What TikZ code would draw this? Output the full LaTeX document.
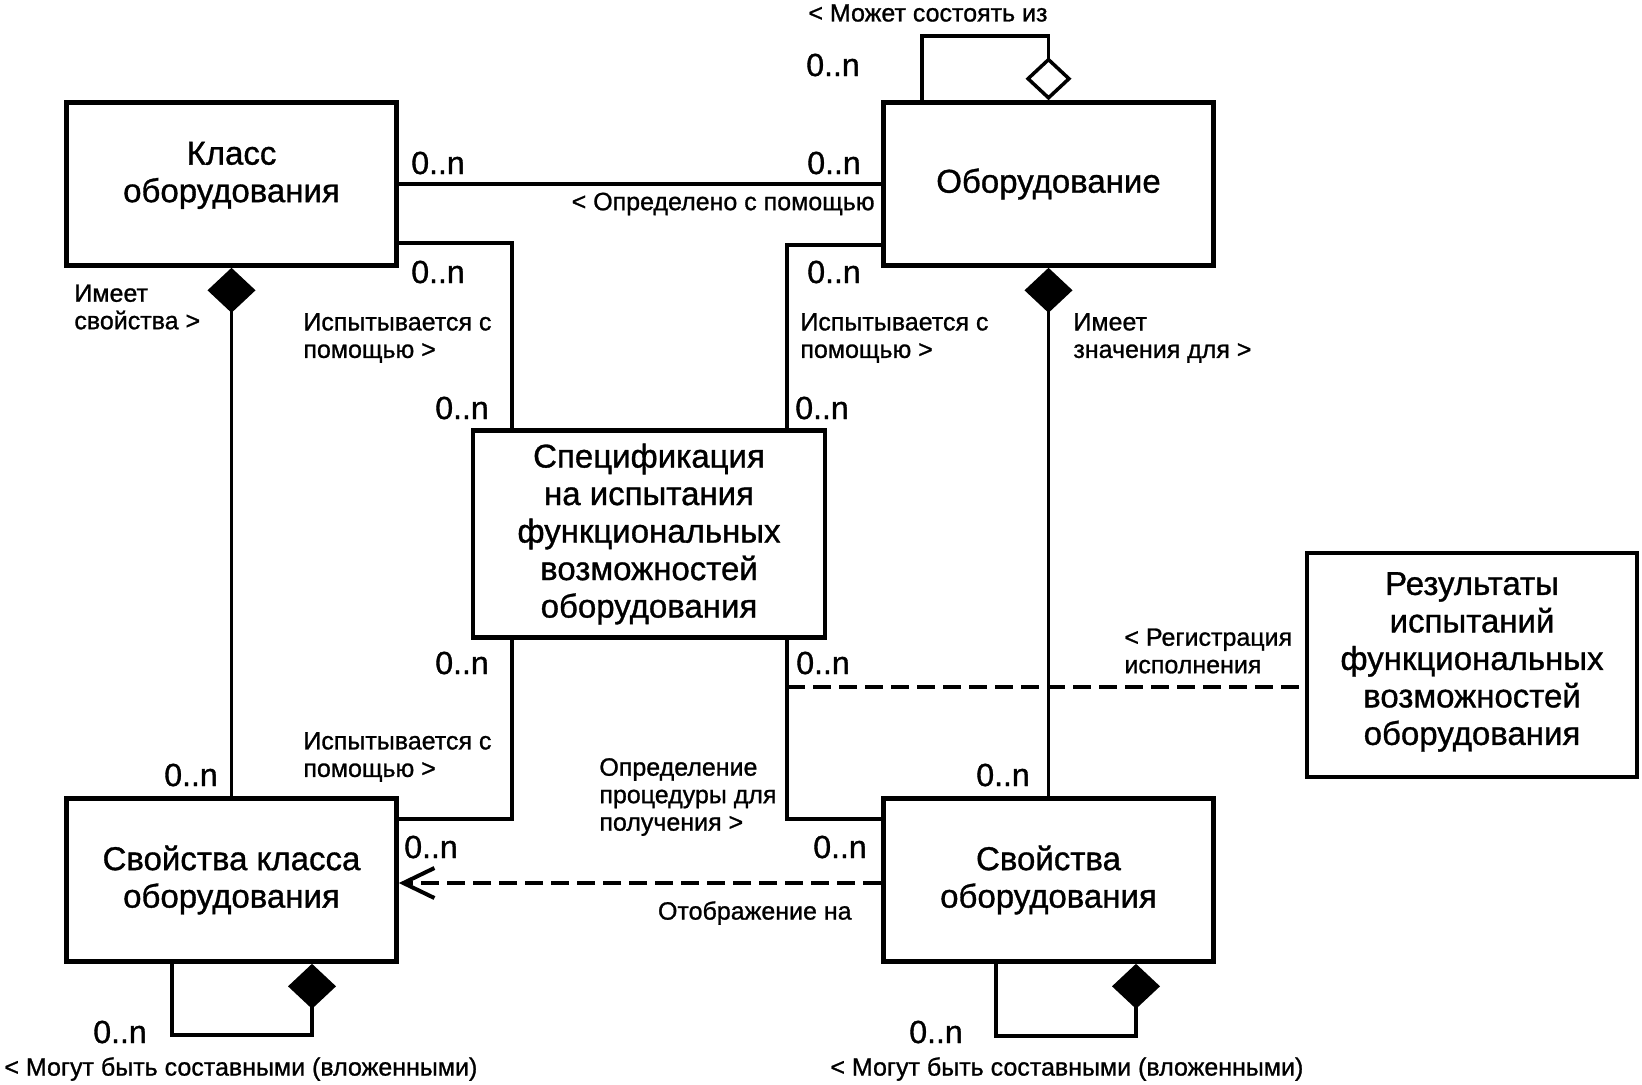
\documentclass[tikz,border=0pt]{standalone}
\usepackage{fontspec}
\setmainfont{Liberation Sans}[FakeBold=1]
\usetikzlibrary{arrows.meta}
\newcommand\entfont{\fontsize{16.5}{18.75}\selectfont}
\newcommand\lblfont{\fontsize{12.5}{13.75}\selectfont}
\newcommand\multfont{\fontsize{16}{18}\selectfont}

\begin{document}
\begin{tikzpicture}[x=0.5pt,y=-0.5pt,
    entity/.style={draw,line width=2.3pt,align=center,font=\entfont,inner sep=0pt,
        minimum width=165pt,minimum height=81.5pt},
    assoc/.style={line width=1.75pt},
    depend/.style={line width=2pt,dash pattern=on 9pt off 4pt},
    mult/.style={font=\multfont,inner sep=0pt},
    lbl/.style={font=\lblfont,inner sep=0pt,align=left},
    comp/.style={assoc,arrows={Diamond[length=22.5pt,width=24pt]-}},
    aggr/.style={assoc,arrows={Diamond[open,length=21.5pt,width=23pt]-}}]
                        \useasboundingbox (0,0) rectangle (1642,1084);
                        % classes
                        \node[entity,text depth=12pt] (cls) at (231.5,184) {Класс\\оборудования};
                        \node[entity] (equ) at (1048.5,184) {Оборудование};
                        \node[entity,minimum width=176pt,minimum height=103.5pt] (spec) at (649,534)
                            {Спецификация\\на испытания\\функциональных\\возможностей\\оборудования};
                        \node[entity] (clsprop) at (231.5,880) {Свойства класса\\оборудования};
                        \node[entity] (equprop) at (1048.5,880) {Свойства\\оборудования};
                        \node[entity,minimum height=112pt,text depth=6.5pt] (res) at (1472,665)
                            {Результаты\\испытаний\\функциональных\\возможностей\\оборудования};
                        \coordinate (reg) at (787,687);
                        % associations
                        \draw[assoc] (cls.east) -- (equ.west);
                        \draw[assoc] (cls.east |- 0,243) -| (spec.north -| 512,0);
                        \draw[assoc] (equ.west |- 0,245) -| (spec.north -| 787,0);
                        \draw[assoc] (spec.south -| 512,0) |- (clsprop.east |- 0,819);
                        \draw[assoc] (spec.south -| 787,0) |- (equprop.west |- 0,819);
                        \draw[depend] (reg) -- (res.west |- reg);
                        \draw[depend,-{Straight Barb[length=15.5pt,width=15pt]}]
                            (equprop.west |- 0,883) -- (clsprop.east |- 0,883);
                        \draw[comp] (cls.south) -- (clsprop.north);
                        \draw[comp] (equ.south) -- (equprop.north);
                        \draw[aggr] (equ.north) -- (equ.north |- 0,36) -| (equ.north -| 922,0);
                        \draw[comp] (clsprop.south -| 312,0) -- (312,1035) -| (clsprop.south -| 172,0);
                        \draw[comp] (equprop.south -| 1136,0) -- (1136,1036) -| (equprop.south -| 996,0);
                        % multiplicities
                        \node[mult] (m1) at (438,163) {0..n};
                        \node[mult] (m2) at (834,163) {0..n};
                        \node[mult] (m3) at (438,272) {0..n};
                        \node[mult] (m4) at (834,272) {0..n};
                        \node[mult] (m5) at (462,408) {0..n};
                        \node[mult] (m6) at (822,408) {0..n};
                        \node[mult] (m7) at (462,663) {0..n};
                        \node[mult] (m8) at (823,663) {0..n};
                        \node[mult] (m9) at (191,775) {0..n};
                        \node[mult] (m10) at (1003,775) {0..n};
                        \node[mult] (m11) at (431,847) {0..n};
                        \node[mult] (m12) at (840,847) {0..n};
                        \node[mult] (m13) at (833,65) {0..n};
                        \node[mult] (m14) at (120,1032) {0..n};
                        \node[mult] (m15) at (936,1032) {0..n};
                        % role names
                        \node[lbl,anchor=west] (l1) at (808,13) {< Может состоять из};
                        \node[lbl,anchor=east] (l2) at (875,204) {< Определено с помощью};
                        \node[lbl,anchor=west] (l3) at (74,307) {Имеет\\свойства >};
                        \node[lbl,anchor=west] (l4) at (303,338) {Испытывается с\\помощью >};
                        \node[lbl,anchor=west] (l5) at (800,338) {Испытывается с\\помощью >};
                        \node[lbl,anchor=west] (l6) at (1073,338) {Имеет\\значения для >};
                        \node[lbl,anchor=west] (l7) at (1124,651) {< Регистрация\\исполнения};
                        \node[lbl,anchor=west] (l8) at (303,757) {Испытывается с\\помощью >};
                        \node[lbl,anchor=west] (l9) at (599,797) {Определение\\процедуры для\\получения >};
                        \node[lbl,anchor=east] (l10) at (852,913) {Отображение на};
                        \node[lbl,anchor=west] (l11) at (4,1069) {< Могут быть составными (вложенными)};
                        \node[lbl,anchor=west] (l12) at (830,1069) {< Могут быть составными (вложенными)};
                    \end{tikzpicture}
\end{document}
